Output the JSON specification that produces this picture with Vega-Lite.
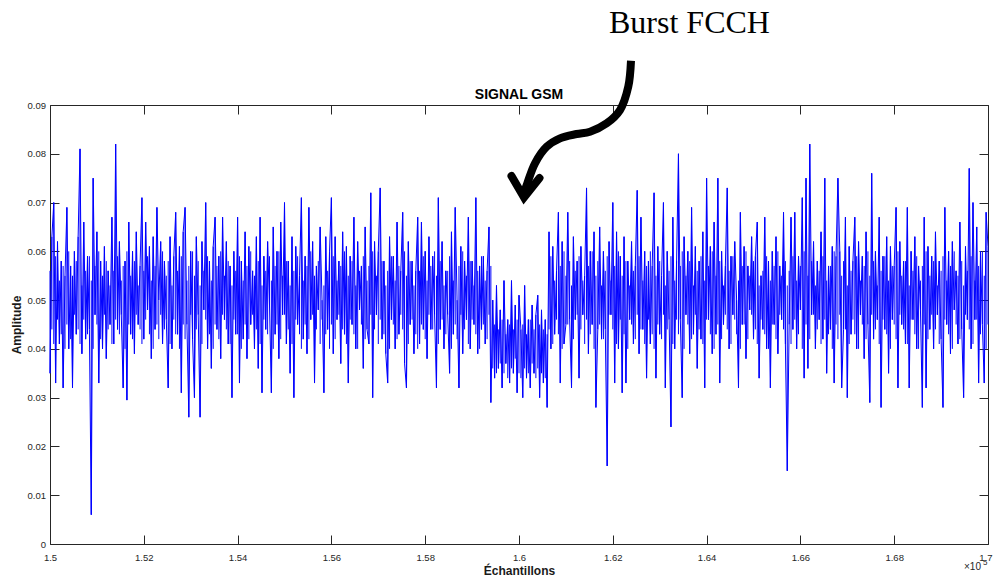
{
"$schema": "https://vega.github.io/schema/vega-lite/v6.json",
"width": 938,
"height": 439,
"autosize": {"type": "none"},
"padding": {"left": 50, "top": 105, "right": 5, "bottom": 33},
"background": "white",
"config": {
  "view": {"stroke": null},
  "axis": {"domainColor": "#262626", "tickColor": "#262626", "labelColor": "#262626", "titleColor": "#1a1a1a", "labelFont": "Liberation Sans", "titleFont": "Liberation Sans", "labelFontSize": 9.5, "titleFontSize": 12, "titleFontWeight": "bold", "grid": false, "domainWidth": 1, "tickWidth": 1, "labelFlush": false}
},
"resolve": {"axis": {"x": "independent", "y": "independent"}},
"datasets": {
"sig": [
{"s":1.5,"a":0.035,"b":0.056},{"s":1.5004,"a":0.063,"b":0.044},{"s":1.5008,"a":0.07,"b":0.041},{"s":1.5012,"a":0.033,"b":0.059},{"s":1.5016,"a":0.062,"b":0.046},{"s":1.502,"a":0.041,"b":0.054},{"s":1.5024,"a":0.058,"b":0.043},{"s":1.5028,"a":0.032,"b":0.057},{"s":1.5032,"a":0.055,"b":0.04},{"s":1.5036,"a":0.069,"b":0.045},
{"s":1.504,"a":0.04,"b":0.06},{"s":1.5044,"a":0.057,"b":0.042},{"s":1.5048,"a":0.032,"b":0.055},{"s":1.5052,"a":0.06,"b":0.047},{"s":1.5056,"a":0.043,"b":0.058},{"s":1.506,"a":0.063,"b":0.044},{"s":1.5064,"a":0.081,"b":0.041},{"s":1.5068,"a":0.039,"b":0.053},{"s":1.5072,"a":0.066,"b":0.046},{"s":1.5076,"a":0.042,"b":0.056},
{"s":1.508,"a":0.059,"b":0.043},{"s":1.5084,"a":0.044,"b":0.059},{"s":1.5088,"a":0.006,"b":0.054},{"s":1.5092,"a":0.075,"b":0.04},{"s":1.5096,"a":0.047,"b":0.057},{"s":1.51,"a":0.064,"b":0.045},{"s":1.5104,"a":0.033,"b":0.06},{"s":1.5108,"a":0.058,"b":0.042},{"s":1.5112,"a":0.04,"b":0.055},{"s":1.5116,"a":0.061,"b":0.047},
{"s":1.512,"a":0.038,"b":0.058},{"s":1.5124,"a":0.056,"b":0.044},{"s":1.5128,"a":0.045,"b":0.053},{"s":1.5132,"a":0.067,"b":0.041},{"s":1.5136,"a":0.041,"b":0.056},{"s":1.514,"a":0.082,"b":0.046},{"s":1.5144,"a":0.044,"b":0.059},{"s":1.5148,"a":0.062,"b":0.043},{"s":1.5152,"a":0.047,"b":0.054},{"s":1.5156,"a":0.032,"b":0.057},
{"s":1.516,"a":0.058,"b":0.04},{"s":1.5164,"a":0.0295,"b":0.06},{"s":1.5168,"a":0.066,"b":0.045},{"s":1.5172,"a":0.043,"b":0.055},{"s":1.5176,"a":0.06,"b":0.042},{"s":1.518,"a":0.039,"b":0.058},{"s":1.5184,"a":0.064,"b":0.047},{"s":1.5188,"a":0.045,"b":0.053},{"s":1.5192,"a":0.057,"b":0.044},{"s":1.5196,"a":0.071,"b":0.041},
{"s":1.52,"a":0.042,"b":0.056},{"s":1.5204,"a":0.066,"b":0.046},{"s":1.5208,"a":0.048,"b":0.059},{"s":1.5212,"a":0.061,"b":0.043},{"s":1.5216,"a":0.038,"b":0.054},{"s":1.522,"a":0.063,"b":0.04},{"s":1.5224,"a":0.044,"b":0.057},{"s":1.5228,"a":0.069,"b":0.045},{"s":1.5232,"a":0.05,"b":0.042},{"s":1.5236,"a":0.062,"b":0.047},
{"s":1.524,"a":0.041,"b":0.06},{"s":1.5244,"a":0.058,"b":0.044},{"s":1.5248,"a":0.046,"b":0.055},{"s":1.5252,"a":0.032,"b":0.058},{"s":1.5256,"a":0.063,"b":0.041},{"s":1.526,"a":0.04,"b":0.053},{"s":1.5264,"a":0.059,"b":0.046},{"s":1.5268,"a":0.068,"b":0.043},{"s":1.5272,"a":0.043,"b":0.056},{"s":1.5276,"a":0.061,"b":0.04},
{"s":1.528,"a":0.031,"b":0.059},{"s":1.5284,"a":0.064,"b":0.045},{"s":1.5288,"a":0.069,"b":0.042},{"s":1.5292,"a":0.045,"b":0.054},{"s":1.5296,"a":0.026,"b":0.057},{"s":1.53,"a":0.06,"b":0.047},{"s":1.5304,"a":0.042,"b":0.06},{"s":1.5308,"a":0.03,"b":0.055},{"s":1.5312,"a":0.063,"b":0.044},{"s":1.5316,"a":0.047,"b":0.058},
{"s":1.532,"a":0.026,"b":0.053},{"s":1.5324,"a":0.062,"b":0.041},{"s":1.5328,"a":0.048,"b":0.056},{"s":1.5332,"a":0.07,"b":0.046},{"s":1.5336,"a":0.04,"b":0.059},{"s":1.534,"a":0.058,"b":0.043},{"s":1.5344,"a":0.036,"b":0.054},{"s":1.5348,"a":0.061,"b":0.04},{"s":1.5352,"a":0.067,"b":0.045},{"s":1.5356,"a":0.044,"b":0.057},
{"s":1.536,"a":0.059,"b":0.042},{"s":1.5364,"a":0.038,"b":0.06},{"s":1.5368,"a":0.067,"b":0.047},{"s":1.5372,"a":0.046,"b":0.055},{"s":1.5376,"a":0.062,"b":0.044},{"s":1.538,"a":0.041,"b":0.058},{"s":1.5384,"a":0.057,"b":0.041},{"s":1.5388,"a":0.03,"b":0.053},{"s":1.5392,"a":0.06,"b":0.046},{"s":1.5396,"a":0.043,"b":0.056},
{"s":1.54,"a":0.067,"b":0.043},{"s":1.5404,"a":0.033,"b":0.059},{"s":1.5408,"a":0.058,"b":0.04},{"s":1.5412,"a":0.042,"b":0.054},{"s":1.5416,"a":0.064,"b":0.045},{"s":1.542,"a":0.038,"b":0.057},{"s":1.5424,"a":0.061,"b":0.042},{"s":1.5428,"a":0.045,"b":0.06},{"s":1.5432,"a":0.056,"b":0.047},{"s":1.5436,"a":0.04,"b":0.055},
{"s":1.544,"a":0.063,"b":0.044},{"s":1.5444,"a":0.036,"b":0.058},{"s":1.5448,"a":0.067,"b":0.041},{"s":1.5452,"a":0.031,"b":0.053},{"s":1.5456,"a":0.059,"b":0.046},{"s":1.546,"a":0.044,"b":0.056},{"s":1.5464,"a":0.062,"b":0.043},{"s":1.5468,"a":0.049,"b":0.059},{"s":1.5472,"a":0.031,"b":0.054},{"s":1.5476,"a":0.065,"b":0.04},
{"s":1.548,"a":0.043,"b":0.057},{"s":1.5484,"a":0.06,"b":0.045},{"s":1.5488,"a":0.038,"b":0.06},{"s":1.5492,"a":0.066,"b":0.042},{"s":1.5496,"a":0.047,"b":0.055},{"s":1.55,"a":0.07,"b":0.047},{"s":1.5504,"a":0.041,"b":0.058},{"s":1.5508,"a":0.058,"b":0.044},{"s":1.5512,"a":0.035,"b":0.053},{"s":1.5516,"a":0.063,"b":0.041},
{"s":1.552,"a":0.03,"b":0.056},{"s":1.5524,"a":0.061,"b":0.046},{"s":1.5528,"a":0.045,"b":0.059},{"s":1.5532,"a":0.055,"b":0.043},{"s":1.5536,"a":0.071,"b":0.04},{"s":1.554,"a":0.042,"b":0.054},{"s":1.5544,"a":0.059,"b":0.045},{"s":1.5548,"a":0.039,"b":0.057},{"s":1.5552,"a":0.069,"b":0.042},{"s":1.5556,"a":0.046,"b":0.06},
{"s":1.556,"a":0.062,"b":0.047},{"s":1.5564,"a":0.033,"b":0.055},{"s":1.5568,"a":0.057,"b":0.044},{"s":1.5572,"a":0.048,"b":0.058},{"s":1.5576,"a":0.065,"b":0.041},{"s":1.558,"a":0.05,"b":0.046},{"s":1.5584,"a":0.031,"b":0.053},{"s":1.5588,"a":0.063,"b":0.043},{"s":1.5592,"a":0.044,"b":0.056},{"s":1.5596,"a":0.06,"b":0.04},
{"s":1.56,"a":0.071,"b":0.045},{"s":1.5604,"a":0.039,"b":0.059},{"s":1.5608,"a":0.063,"b":0.042},{"s":1.5612,"a":0.046,"b":0.054},{"s":1.5616,"a":0.058,"b":0.047},{"s":1.562,"a":0.037,"b":0.057},{"s":1.5624,"a":0.064,"b":0.044},{"s":1.5628,"a":0.043,"b":0.06},{"s":1.5632,"a":0.061,"b":0.041},{"s":1.5636,"a":0.033,"b":0.055},
{"s":1.564,"a":0.059,"b":0.046},{"s":1.5644,"a":0.045,"b":0.058},{"s":1.5648,"a":0.067,"b":0.043},{"s":1.5652,"a":0.04,"b":0.053},{"s":1.5656,"a":0.062,"b":0.04},{"s":1.566,"a":0.048,"b":0.056},{"s":1.5664,"a":0.057,"b":0.045},{"s":1.5668,"a":0.036,"b":0.059},{"s":1.5672,"a":0.065,"b":0.042},{"s":1.5676,"a":0.044,"b":0.054},
{"s":1.568,"a":0.041,"b":0.057},{"s":1.5684,"a":0.072,"b":0.047},{"s":1.5688,"a":0.03,"b":0.06},{"s":1.5692,"a":0.062,"b":0.044},{"s":1.5696,"a":0.047,"b":0.055},{"s":1.57,"a":0.06,"b":0.041},{"s":1.5704,"a":0.073,"b":0.046},{"s":1.5708,"a":0.042,"b":0.058},{"s":1.5712,"a":0.058,"b":0.043},{"s":1.5716,"a":0.039,"b":0.053},
{"s":1.572,"a":0.033,"b":0.056},{"s":1.5724,"a":0.063,"b":0.04},{"s":1.5728,"a":0.046,"b":0.059},{"s":1.5732,"a":0.059,"b":0.045},{"s":1.5736,"a":0.04,"b":0.054},{"s":1.574,"a":0.066,"b":0.042},{"s":1.5744,"a":0.043,"b":0.057},{"s":1.5748,"a":0.056,"b":0.047},{"s":1.5752,"a":0.068,"b":0.044},{"s":1.5756,"a":0.037,"b":0.06},
{"s":1.576,"a":0.032,"b":0.055},{"s":1.5764,"a":0.062,"b":0.041},{"s":1.5768,"a":0.045,"b":0.058},{"s":1.5772,"a":0.058,"b":0.046},{"s":1.5776,"a":0.039,"b":0.053},{"s":1.578,"a":0.056,"b":0.043},{"s":1.5784,"a":0.067,"b":0.04},{"s":1.5788,"a":0.041,"b":0.056},{"s":1.5792,"a":0.066,"b":0.045},{"s":1.5796,"a":0.044,"b":0.059},
{"s":1.58,"a":0.06,"b":0.042},{"s":1.5804,"a":0.038,"b":0.054},{"s":1.5808,"a":0.063,"b":0.047},{"s":1.5812,"a":0.044,"b":0.057},{"s":1.5816,"a":0.059,"b":0.044},{"s":1.582,"a":0.047,"b":0.06},{"s":1.5824,"a":0.032,"b":0.055},{"s":1.5828,"a":0.071,"b":0.041},{"s":1.5832,"a":0.044,"b":0.058},{"s":1.5836,"a":0.062,"b":0.046},
{"s":1.584,"a":0.04,"b":0.053},{"s":1.5844,"a":0.056,"b":0.043},{"s":1.5848,"a":0.047,"b":0.056},{"s":1.5852,"a":0.035,"b":0.059},{"s":1.5856,"a":0.064,"b":0.04},{"s":1.586,"a":0.043,"b":0.054},{"s":1.5864,"a":0.069,"b":0.045},{"s":1.5868,"a":0.05,"b":0.042},{"s":1.5872,"a":0.032,"b":0.057},{"s":1.5876,"a":0.061,"b":0.047},
{"s":1.588,"a":0.039,"b":0.06},{"s":1.5884,"a":0.058,"b":0.044},{"s":1.5888,"a":0.046,"b":0.055},{"s":1.5892,"a":0.067,"b":0.041},{"s":1.5896,"a":0.04,"b":0.058},{"s":1.59,"a":0.058,"b":0.046},{"s":1.5904,"a":0.045,"b":0.053},{"s":1.5908,"a":0.071,"b":0.043},{"s":1.5912,"a":0.039,"b":0.056},{"s":1.5916,"a":0.057,"b":0.04},
{"s":1.592,"a":0.044,"b":0.059},{"s":1.5924,"a":0.059,"b":0.045},{"s":1.5928,"a":0.041,"b":0.054},{"s":1.5932,"a":0.056,"b":0.042},{"s":1.5936,"a":0.065,"b":0.047},{"s":1.594,"a":0.029,"b":0.057},{"s":1.5944,"a":0.05,"b":0.036},{"s":1.5948,"a":0.034,"b":0.045},{"s":1.5952,"a":0.053,"b":0.035},{"s":1.5956,"a":0.036,"b":0.044},
{"s":1.596,"a":0.048,"b":0.037},{"s":1.5964,"a":0.032,"b":0.046},{"s":1.5968,"a":0.054,"b":0.035},{"s":1.5972,"a":0.037,"b":0.043},{"s":1.5976,"a":0.046,"b":0.034},{"s":1.598,"a":0.033,"b":0.045},{"s":1.5984,"a":0.054,"b":0.036},{"s":1.5988,"a":0.035,"b":0.044},{"s":1.5992,"a":0.049,"b":0.038},{"s":1.5996,"a":0.031,"b":0.046},
{"s":1.6,"a":0.051,"b":0.035},{"s":1.6004,"a":0.044,"b":0.034},{"s":1.6008,"a":0.03,"b":0.045},{"s":1.6012,"a":0.053,"b":0.036},{"s":1.6016,"a":0.034,"b":0.043},{"s":1.602,"a":0.046,"b":0.035},{"s":1.6024,"a":0.032,"b":0.046},{"s":1.6028,"a":0.049,"b":0.037},{"s":1.6032,"a":0.035,"b":0.044},{"s":1.6036,"a":0.047,"b":0.034},
{"s":1.604,"a":0.051,"b":0.036},{"s":1.6044,"a":0.03,"b":0.045},{"s":1.6048,"a":0.048,"b":0.035},{"s":1.6052,"a":0.033,"b":0.044},{"s":1.6056,"a":0.046,"b":0.034},{"s":1.606,"a":0.028,"b":0.043},{"s":1.6064,"a":0.064,"b":0.044},{"s":1.6068,"a":0.04,"b":0.059},{"s":1.6072,"a":0.061,"b":0.041},{"s":1.6076,"a":0.043,"b":0.054},
{"s":1.608,"a":0.056,"b":0.046},{"s":1.6084,"a":0.068,"b":0.043},{"s":1.6088,"a":0.033,"b":0.057},{"s":1.6092,"a":0.062,"b":0.04},{"s":1.6096,"a":0.041,"b":0.06},{"s":1.61,"a":0.045,"b":0.055},{"s":1.6104,"a":0.068,"b":0.045},{"s":1.6108,"a":0.046,"b":0.058},{"s":1.6112,"a":0.032,"b":0.053},{"s":1.6116,"a":0.063,"b":0.042},
{"s":1.612,"a":0.046,"b":0.056},{"s":1.6124,"a":0.058,"b":0.047},{"s":1.6128,"a":0.034,"b":0.059},{"s":1.6132,"a":0.061,"b":0.044},{"s":1.6136,"a":0.047,"b":0.054},{"s":1.614,"a":0.055,"b":0.041},{"s":1.6144,"a":0.073,"b":0.046},{"s":1.6148,"a":0.039,"b":0.057},{"s":1.6152,"a":0.06,"b":0.043},{"s":1.6156,"a":0.045,"b":0.06},
{"s":1.616,"a":0.064,"b":0.04},{"s":1.6164,"a":0.028,"b":0.055},{"s":1.6168,"a":0.044,"b":0.058},{"s":1.6172,"a":0.065,"b":0.045},{"s":1.6176,"a":0.042,"b":0.053},{"s":1.618,"a":0.06,"b":0.042},{"s":1.6184,"a":0.044,"b":0.056},{"s":1.6188,"a":0.016,"b":0.059},{"s":1.6192,"a":0.062,"b":0.047},{"s":1.6196,"a":0.047,"b":0.054},
{"s":1.62,"a":0.07,"b":0.044},{"s":1.6204,"a":0.033,"b":0.057},{"s":1.6208,"a":0.064,"b":0.041},{"s":1.6212,"a":0.04,"b":0.06},{"s":1.6216,"a":0.059,"b":0.046},{"s":1.622,"a":0.031,"b":0.055},{"s":1.6224,"a":0.063,"b":0.043},{"s":1.6228,"a":0.033,"b":0.058},{"s":1.6232,"a":0.058,"b":0.04},{"s":1.6236,"a":0.046,"b":0.053},
{"s":1.624,"a":0.062,"b":0.045},{"s":1.6244,"a":0.041,"b":0.056},{"s":1.6248,"a":0.057,"b":0.042},{"s":1.6252,"a":0.0725,"b":0.047},{"s":1.6256,"a":0.039,"b":0.059},{"s":1.626,"a":0.067,"b":0.044},{"s":1.6264,"a":0.044,"b":0.054},{"s":1.6268,"a":0.06,"b":0.041},{"s":1.6272,"a":0.034,"b":0.057},{"s":1.6276,"a":0.058,"b":0.046},
{"s":1.628,"a":0.041,"b":0.06},{"s":1.6284,"a":0.057,"b":0.043},{"s":1.6288,"a":0.072,"b":0.04},{"s":1.6292,"a":0.034,"b":0.055},{"s":1.6296,"a":0.061,"b":0.045},{"s":1.63,"a":0.043,"b":0.058},{"s":1.6304,"a":0.055,"b":0.042},{"s":1.6308,"a":0.07,"b":0.047},{"s":1.6312,"a":0.032,"b":0.053},{"s":1.6316,"a":0.06,"b":0.044},
{"s":1.632,"a":0.046,"b":0.056},{"s":1.6324,"a":0.024,"b":0.059},{"s":1.6328,"a":0.067,"b":0.041},{"s":1.6332,"a":0.04,"b":0.054},{"s":1.6336,"a":0.058,"b":0.046},{"s":1.634,"a":0.08,"b":0.043},{"s":1.6344,"a":0.046,"b":0.057},{"s":1.6348,"a":0.03,"b":0.06},{"s":1.6352,"a":0.063,"b":0.04},{"s":1.6356,"a":0.047,"b":0.055},
{"s":1.636,"a":0.06,"b":0.045},{"s":1.6364,"a":0.039,"b":0.058},{"s":1.6368,"a":0.069,"b":0.042},{"s":1.6372,"a":0.043,"b":0.053},{"s":1.6376,"a":0.061,"b":0.047},{"s":1.638,"a":0.036,"b":0.056},{"s":1.6384,"a":0.058,"b":0.044},{"s":1.6388,"a":0.042,"b":0.059},{"s":1.6392,"a":0.064,"b":0.041},{"s":1.6396,"a":0.032,"b":0.054},
{"s":1.64,"a":0.075,"b":0.046},{"s":1.6404,"a":0.046,"b":0.057},{"s":1.6408,"a":0.061,"b":0.043},{"s":1.6412,"a":0.039,"b":0.06},{"s":1.6416,"a":0.066,"b":0.04},{"s":1.642,"a":0.043,"b":0.055},{"s":1.6424,"a":0.075,"b":0.045},{"s":1.6428,"a":0.033,"b":0.058},{"s":1.6432,"a":0.06,"b":0.042},{"s":1.6436,"a":0.045,"b":0.053},
{"s":1.644,"a":0.057,"b":0.047},{"s":1.6444,"a":0.073,"b":0.044},{"s":1.6448,"a":0.04,"b":0.056},{"s":1.6452,"a":0.059,"b":0.041},{"s":1.6456,"a":0.047,"b":0.059},{"s":1.646,"a":0.062,"b":0.046},{"s":1.6464,"a":0.05,"b":0.043},{"s":1.6468,"a":0.032,"b":0.054},{"s":1.6472,"a":0.068,"b":0.04},{"s":1.6476,"a":0.045,"b":0.057},
{"s":1.648,"a":0.061,"b":0.045},{"s":1.6484,"a":0.038,"b":0.06},{"s":1.6488,"a":0.057,"b":0.042},{"s":1.6492,"a":0.048,"b":0.055},{"s":1.6496,"a":0.063,"b":0.047},{"s":1.65,"a":0.042,"b":0.058},{"s":1.6504,"a":0.059,"b":0.044},{"s":1.6508,"a":0.066,"b":0.041},{"s":1.6512,"a":0.034,"b":0.053},{"s":1.6516,"a":0.055,"b":0.046},
{"s":1.652,"a":0.044,"b":0.056},{"s":1.6524,"a":0.067,"b":0.043},{"s":1.6528,"a":0.04,"b":0.059},{"s":1.6532,"a":0.058,"b":0.04},{"s":1.6536,"a":0.032,"b":0.054},{"s":1.654,"a":0.06,"b":0.045},{"s":1.6544,"a":0.045,"b":0.057},{"s":1.6548,"a":0.063,"b":0.042},{"s":1.6552,"a":0.039,"b":0.06},{"s":1.6556,"a":0.057,"b":0.047},
{"s":1.656,"a":0.046,"b":0.055},{"s":1.6564,"a":0.068,"b":0.044},{"s":1.6568,"a":0.041,"b":0.058},{"s":1.6572,"a":0.015,"b":0.053},{"s":1.6576,"a":0.045,"b":0.056},{"s":1.658,"a":0.067,"b":0.041},{"s":1.6584,"a":0.044,"b":0.059},{"s":1.6588,"a":0.068,"b":0.046},{"s":1.6592,"a":0.04,"b":0.054},{"s":1.6596,"a":0.059,"b":0.043},
{"s":1.66,"a":0.048,"b":0.057},{"s":1.6604,"a":0.071,"b":0.04},{"s":1.6608,"a":0.034,"b":0.06},{"s":1.6612,"a":0.075,"b":0.045},{"s":1.6616,"a":0.036,"b":0.055},{"s":1.662,"a":0.082,"b":0.042},{"s":1.6624,"a":0.047,"b":0.058},{"s":1.6628,"a":0.062,"b":0.047},{"s":1.6632,"a":0.04,"b":0.053},{"s":1.6636,"a":0.058,"b":0.044},
{"s":1.664,"a":0.046,"b":0.056},{"s":1.6644,"a":0.064,"b":0.041},{"s":1.6648,"a":0.042,"b":0.059},{"s":1.6652,"a":0.075,"b":0.046},{"s":1.6656,"a":0.035,"b":0.054},{"s":1.666,"a":0.057,"b":0.043},{"s":1.6664,"a":0.044,"b":0.057},{"s":1.6668,"a":0.061,"b":0.04},{"s":1.6672,"a":0.033,"b":0.06},{"s":1.6676,"a":0.059,"b":0.045},
{"s":1.668,"a":0.075,"b":0.042},{"s":1.6684,"a":0.06,"b":0.047},{"s":1.6688,"a":0.032,"b":0.055},{"s":1.6692,"a":0.044,"b":0.058},{"s":1.6696,"a":0.067,"b":0.044},{"s":1.67,"a":0.03,"b":0.053},{"s":1.6704,"a":0.061,"b":0.041},{"s":1.6708,"a":0.043,"b":0.056},{"s":1.6712,"a":0.058,"b":0.046},{"s":1.6716,"a":0.067,"b":0.043},
{"s":1.672,"a":0.04,"b":0.059},{"s":1.6724,"a":0.062,"b":0.04},{"s":1.6728,"a":0.047,"b":0.054},{"s":1.6732,"a":0.059,"b":0.045},{"s":1.6736,"a":0.038,"b":0.057},{"s":1.674,"a":0.064,"b":0.042},{"s":1.6744,"a":0.045,"b":0.06},{"s":1.6748,"a":0.029,"b":0.055},{"s":1.6752,"a":0.076,"b":0.047},{"s":1.6756,"a":0.042,"b":0.058},
{"s":1.676,"a":0.06,"b":0.044},{"s":1.6764,"a":0.046,"b":0.053},{"s":1.6768,"a":0.067,"b":0.041},{"s":1.6772,"a":0.028,"b":0.056},{"s":1.6776,"a":0.059,"b":0.046},{"s":1.678,"a":0.044,"b":0.059},{"s":1.6784,"a":0.063,"b":0.043},{"s":1.6788,"a":0.035,"b":0.054},{"s":1.6792,"a":0.061,"b":0.04},{"s":1.6796,"a":0.046,"b":0.057},
{"s":1.68,"a":0.057,"b":0.045},{"s":1.6804,"a":0.069,"b":0.042},{"s":1.6808,"a":0.032,"b":0.06},{"s":1.6812,"a":0.062,"b":0.047},{"s":1.6816,"a":0.045,"b":0.055},{"s":1.682,"a":0.058,"b":0.044},{"s":1.6824,"a":0.041,"b":0.058},{"s":1.6828,"a":0.069,"b":0.041},{"s":1.6832,"a":0.032,"b":0.053},{"s":1.6836,"a":0.06,"b":0.046},
{"s":1.684,"a":0.046,"b":0.056},{"s":1.6844,"a":0.063,"b":0.043},{"s":1.6848,"a":0.04,"b":0.059},{"s":1.6852,"a":0.057,"b":0.04},{"s":1.6856,"a":0.048,"b":0.054},{"s":1.686,"a":0.028,"b":0.057},{"s":1.6864,"a":0.067,"b":0.045},{"s":1.6868,"a":0.032,"b":0.06},{"s":1.6872,"a":0.061,"b":0.042},{"s":1.6876,"a":0.044,"b":0.055},
{"s":1.688,"a":0.059,"b":0.047},{"s":1.6884,"a":0.04,"b":0.058},{"s":1.6888,"a":0.064,"b":0.044},{"s":1.6892,"a":0.047,"b":0.053},{"s":1.6896,"a":0.058,"b":0.041},{"s":1.69,"a":0.042,"b":0.056},{"s":1.6904,"a":0.028,"b":0.059},{"s":1.6908,"a":0.069,"b":0.046},{"s":1.6912,"a":0.045,"b":0.054},{"s":1.6916,"a":0.06,"b":0.043},
{"s":1.692,"a":0.039,"b":0.057},{"s":1.6924,"a":0.062,"b":0.04},{"s":1.6928,"a":0.048,"b":0.06},{"s":1.6932,"a":0.056,"b":0.045},{"s":1.6936,"a":0.041,"b":0.055},{"s":1.694,"a":0.066,"b":0.042},{"s":1.6944,"a":0.044,"b":0.058},{"s":1.6948,"a":0.03,"b":0.053},{"s":1.6952,"a":0.061,"b":0.047},{"s":1.6956,"a":0.046,"b":0.056},
{"s":1.696,"a":0.077,"b":0.044},{"s":1.6964,"a":0.04,"b":0.059},{"s":1.6968,"a":0.07,"b":0.041},{"s":1.6972,"a":0.046,"b":0.054},{"s":1.6976,"a":0.065,"b":0.046},{"s":1.698,"a":0.033,"b":0.057},{"s":1.6984,"a":0.06,"b":0.043},{"s":1.6988,"a":0.045,"b":0.06},{"s":1.6992,"a":0.033,"b":0.055},{"s":1.6996,"a":0.068,"b":0.04},
{"s":1.7,"a":0.061,"b":0.045}
],
"arrow": [
{"k":0,"s":1.62388,"a":0.09908},{"k":1,"s":1.6233,"a":0.09375},{"k":2,"s":1.62154,"a":0.08897},{"k":3,"s":1.6187,"a":0.08625},{"k":4,"s":1.61514,"a":0.08453},{"k":5,"s":1.6123,"a":0.08405},{"k":6,"s":1.60874,"a":0.08317},{"k":7,"s":1.60591,"a":0.08145},{"k":8,"s":1.60341,"a":0.07805},{"k":9,"s":1.60177,"a":0.07395},{"k":10,"s":1.60111,"a":0.07216}
],
"head": [
{"k":0,"s":1.5984,"a":0.07544},{"k":1,"s":1.60107,"a":0.07104},{"k":2,"s":1.60437,"a":0.07503}
]
},
"layer": [
{
  "data": {"name": "sig"},
  "mark": {"type": "line", "color": "#0000ff", "strokeWidth": 1},
  "encoding": {
    "x": {"field": "s", "type": "quantitative", "scale": {"domain": [1.5, 1.7], "nice": false, "zero": false},
      "axis": {"orient": "bottom", "values": [1.5,1.52,1.54,1.56,1.58,1.6,1.62,1.64,1.66,1.68,1.7], "format": "~g", "tickSize": -9, "labelPadding": 17, "title": "Échantillons", "titlePadding": 4,
        "labelAlign": {"condition": {"test": "datum.value >= 1.7", "value": "right"}, "value": "center"},
        "labelOffset": {"condition": {"test": "datum.value >= 1.7", "value": 4}, "value": 0}}},
    "y": {"field": "a", "type": "quantitative", "scale": {"domain": [0, 0.09], "nice": false},
      "axis": {"orient": "left", "values": [0,0.01,0.02,0.03,0.04,0.05,0.06,0.07,0.08,0.09], "format": "~g", "tickSize": -9, "labelPadding": 13.5, "title": "Amplitude", "titlePadding": 4}}
  }
},
{
  "data": {"name": "sig"},
  "mark": {"type": "rule", "color": "#0000ff", "strokeWidth": 1},
  "encoding": {
    "x": {"field": "s", "type": "quantitative", "axis": null},
    "y": {"field": "a", "type": "quantitative", "axis": null},
    "y2": {"field": "b"}
  }
},
{
  "data": {"name": "arrow"},
  "mark": {"type": "line", "color": "#000000", "strokeWidth": 8, "interpolate": "catmull-rom", "strokeCap": "butt"},
  "encoding": {
    "x": {"field": "s", "type": "quantitative", "axis": null},
    "y": {"field": "a", "type": "quantitative", "axis": null},
    "order": {"field": "k"}
  }
},
{
  "data": {"name": "head"},
  "mark": {"type": "line", "color": "#000000", "strokeWidth": 8, "strokeCap": "round", "strokeJoin": "miter"},
  "encoding": {
    "x": {"field": "s", "type": "quantitative", "axis": null},
    "y": {"field": "a", "type": "quantitative", "axis": null},
    "order": {"field": "k"}
  }
},
{
  "data": {"values": [{"label": "SIGNAL GSM", "s": 1.6, "a": 0.09117}]},
  "mark": {"type": "text", "font": "Liberation Sans", "fontSize": 14, "fontWeight": "bold", "align": "center", "baseline": "alphabetic", "color": "#000000"},
  "encoding": {
    "x": {"field": "s", "type": "quantitative", "axis": null},
    "y": {"field": "a", "type": "quantitative", "axis": null},
    "text": {"field": "label"}
  }
},
{
  "data": {"values": [{"label": "Burst FCCH", "s": 1.63635, "a": 0.1047}]},
  "mark": {"type": "text", "font": "Liberation Serif", "fontSize": 32, "align": "center", "baseline": "alphabetic", "color": "#000000"},
  "encoding": {
    "x": {"field": "s", "type": "quantitative", "axis": null},
    "y": {"field": "a", "type": "quantitative", "axis": null},
    "text": {"field": "label"}
  }
},
{
  "data": {"values": [{"t": "×10", "s": 1.7, "a": 0}]},
  "mark": {"type": "text", "font": "Liberation Sans", "fontSize": 10, "align": "right", "baseline": "alphabetic", "dx": -7, "dy": 26, "color": "#262626"},
  "encoding": {
    "x": {"field": "s", "type": "quantitative", "axis": {"orient": "top", "values": [1.5,1.52,1.54,1.56,1.58,1.6,1.62,1.64,1.66,1.68,1.7], "labels": false, "title": null, "tickSize": -9}},
    "y": {"field": "a", "type": "quantitative", "axis": {"orient": "right", "values": [0,0.01,0.02,0.03,0.04,0.05,0.06,0.07,0.08,0.09], "labels": false, "title": null, "tickSize": -9}},
    "text": {"field": "t"}
  }
},
{
  "data": {"values": [{"t": "5", "s": 1.7, "a": 0}]},
  "mark": {"type": "text", "font": "Liberation Sans", "fontSize": 8, "align": "left", "baseline": "alphabetic", "dx": -5, "dy": 20.5, "color": "#262626"},
  "encoding": {
    "x": {"field": "s", "type": "quantitative", "axis": null},
    "y": {"field": "a", "type": "quantitative", "axis": null},
    "text": {"field": "t"}
  }
}
]
}
